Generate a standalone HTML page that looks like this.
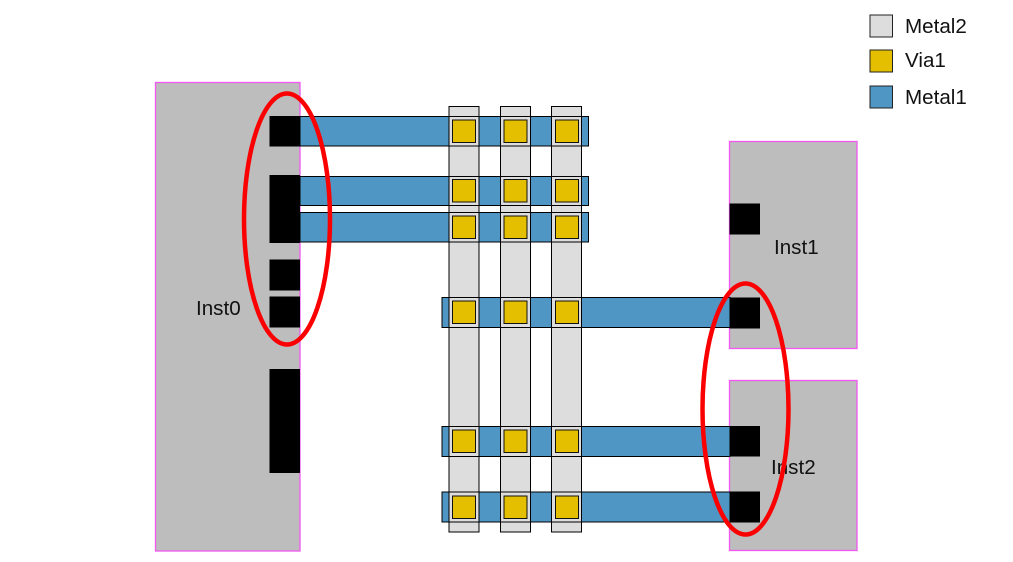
<!DOCTYPE html>
<html>
<head>
<meta charset="utf-8">
<style>
html,body{margin:0;padding:0;background:#fff;}
svg{display:block;}
text{font-family:"Liberation Sans",sans-serif;font-size:20.6px;fill:#111;}
</style>
</head>
<body>
<svg width="1013" height="562" viewBox="0 0 1013 562" xmlns="http://www.w3.org/2000/svg">
  <rect x="0" y="0" width="1013" height="562" fill="#fff"/>
  <!-- Instances -->
  <g fill="#bdbdbd" stroke="#f257f2" stroke-width="1.3">
    <rect x="155.5" y="82.5" width="144.5" height="468.5"/>
    <rect x="729.5" y="141.5" width="127.5" height="207"/>
    <rect x="729.5" y="380.5" width="127.5" height="170"/>
  </g>
  <!-- Metal1 fill -->
  <g fill="#5096c4" stroke="#000" stroke-width="1">
    <rect x="300" y="116.5" width="288.5" height="29.5"/>
    <rect x="300" y="176.5" width="288.5" height="29"/>
    <rect x="300" y="212.5" width="288.5" height="29.5"/>
    <rect x="442" y="297.5" width="288" height="30"/>
    <rect x="442" y="426.5" width="288" height="30"/>
    <rect x="442" y="492" width="288" height="30"/>
  </g>
  <!-- Metal2 -->
  <g fill="#dddddd" stroke="#000" stroke-width="1">
    <rect x="449" y="106.5" width="30" height="425.5"/>
    <rect x="500.5" y="106.5" width="30" height="425.5"/>
    <rect x="551.5" y="106.5" width="30" height="425.5"/>
  </g>
  <!-- Metal1 outline over metal2 -->
  <g fill="none" stroke="#000" stroke-width="1">
    <rect x="300" y="116.5" width="288.5" height="29.5"/>
    <rect x="300" y="176.5" width="288.5" height="29"/>
    <rect x="300" y="212.5" width="288.5" height="29.5"/>
    <rect x="442" y="297.5" width="288" height="30"/>
    <rect x="442" y="426.5" width="288" height="30"/>
    <rect x="442" y="492" width="288" height="30"/>
  </g>
  <!-- Vias -->
  <g fill="#e3bf00" stroke="#111" stroke-width="1">
    <rect x="452.5" y="120" width="23" height="22.5"/>
    <rect x="504" y="120" width="23" height="22.5"/>
    <rect x="555.5" y="120" width="23" height="22.5"/>
    <rect x="452.5" y="179.5" width="23" height="22.5"/>
    <rect x="504" y="179.5" width="23" height="22.5"/>
    <rect x="555.5" y="179.5" width="23" height="22.5"/>
    <rect x="452.5" y="216" width="23" height="22.5"/>
    <rect x="504" y="216" width="23" height="22.5"/>
    <rect x="555.5" y="216" width="23" height="22.5"/>
    <rect x="452.5" y="301" width="23" height="22.5"/>
    <rect x="504" y="301" width="23" height="22.5"/>
    <rect x="555.5" y="301" width="23" height="22.5"/>
    <rect x="452.5" y="430" width="23" height="22.5"/>
    <rect x="504" y="430" width="23" height="22.5"/>
    <rect x="555.5" y="430" width="23" height="22.5"/>
    <rect x="452.5" y="496" width="23" height="22.5"/>
    <rect x="504" y="496" width="23" height="22.5"/>
    <rect x="555.5" y="496" width="23" height="22.5"/>
  </g>
  <!-- Pads -->
  <g fill="#000">
    <rect x="269.5" y="116" width="30.5" height="30.5"/>
    <rect x="269.5" y="175" width="30.5" height="68"/>
    <rect x="269.5" y="259.5" width="30.5" height="31"/>
    <rect x="269.5" y="296.5" width="30.5" height="31"/>
    <rect x="269.5" y="369" width="30.5" height="104"/>
    <rect x="729.5" y="203.5" width="30.5" height="31"/>
    <rect x="729.5" y="297.5" width="30.5" height="31"/>
    <rect x="729.5" y="426" width="30.5" height="30.5"/>
    <rect x="729.5" y="491.5" width="30.5" height="31"/>
  </g>
  <!-- Instance labels -->
  <text x="196" y="315">Inst0</text>
  <text x="774" y="254">Inst1</text>
  <text x="771" y="474">Inst2</text>
  <!-- Red ellipses -->
  <g fill="none" stroke="#fb0000" stroke-width="4.5">
    <ellipse cx="287" cy="219" rx="43" ry="125.5"/>
    <ellipse cx="745.5" cy="409" rx="43" ry="125.5"/>
  </g>
  <!-- Legend -->
  <rect x="870" y="15" width="22.5" height="22" fill="#dddddd" stroke="#222" stroke-width="1"/>
  <rect x="870" y="50" width="22.5" height="22" fill="#e3bf00" stroke="#222" stroke-width="1"/>
  <rect x="870" y="86" width="22.5" height="22" fill="#5096c4" stroke="#222" stroke-width="1"/>
  <text x="905" y="33">Metal2</text>
  <text x="905" y="67">Via1</text>
  <text x="905" y="104">Metal1</text>
</svg>
</body>
</html>
